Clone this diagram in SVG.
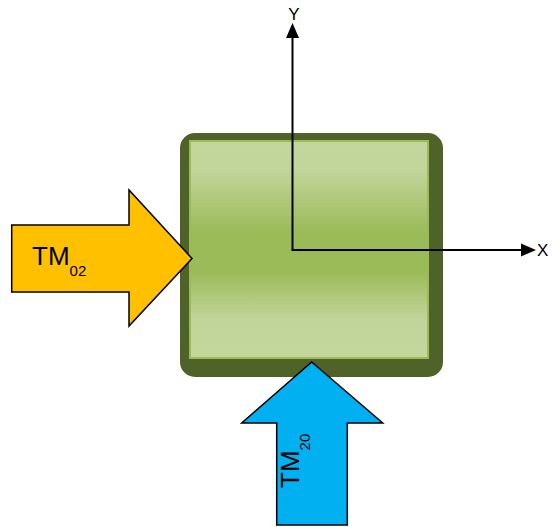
<svg xmlns="http://www.w3.org/2000/svg" width="552" height="527" viewBox="0 0 552 527">
<defs>
<linearGradient id="g" x1="0" y1="0" x2="0" y2="1">
<stop offset="0" stop-color="#c3d69b"/>
<stop offset="0.14" stop-color="#c1d499"/>
<stop offset="0.42" stop-color="#9bbb59"/>
<stop offset="0.6" stop-color="#9bbb59"/>
<stop offset="0.82" stop-color="#c1d499"/>
<stop offset="1" stop-color="#c3d69b"/>
</linearGradient>
<style>
.lbl{font-family:"Liberation Sans",Arial,sans-serif;fill:#000}
.arr{stroke:#000;stroke-width:1.5;stroke-linejoin:miter}
.ax{stroke:#000;stroke-width:2;fill:none}
</style>
</defs>
<g id="block">
<rect x="180" y="133" width="263" height="244" rx="15" fill="#4f6228"/>
<rect x="190" y="141" width="238" height="217" fill="url(#g)" stroke="#9bbb59" stroke-width="2"/>
</g>
<g id="connectors">
<line class="ax" x1="292.5" y1="250" x2="292.5" y2="37"/>
<polygon points="286,38 299,38 292.5,23" fill="#000"/>
<line class="ax" x1="291.5" y1="250" x2="522" y2="250"/>
<polygon points="521,243.5 521,256.5 536,250" fill="#000"/>
</g>
<g id="labelY"><text class="lbl" x="294" y="20" font-size="17" text-anchor="middle">Y</text></g>
<g id="labelX"><text class="lbl" x="537" y="256" font-size="17">X</text></g>
<g id="tm02">
<polygon class="arr" points="11.7,225 129,225 129,190 192,258.5 129,326 129,292 11.7,292" fill="#ffc000"/>
<text class="lbl" x="32" y="265" font-size="26">TM<tspan font-size="15" dy="11">02</tspan></text>
</g>
<g id="tm20">
<polygon class="arr" points="311.7,362 382.7,423 347.3,423 347.3,525 276.7,525 276.7,423 241.7,423" fill="#00b0f0"/>
<text class="lbl" transform="translate(299,488) rotate(-90)" font-size="26">TM<tspan font-size="15" dy="11">20</tspan></text>
</g>
</svg>
